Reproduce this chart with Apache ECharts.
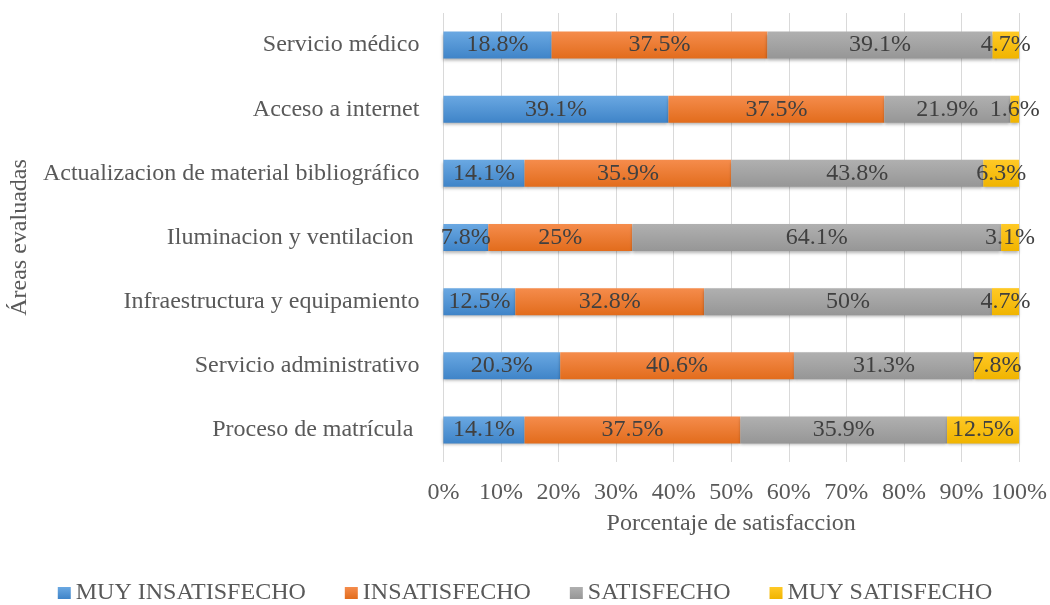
<!DOCTYPE html>
<html>
<head>
<meta charset="utf-8">
<script src="https://cdn.jsdelivr.net/npm/echarts@6/dist/echarts.min.js"></script>
<style>
  html, body { margin: 0; padding: 0; background: #fff; }
  #chart { width: 1050px; height: 605px; }
</style>
</head>
<body>
<div id="chart"></div>
<script>
// categories, bottom to top
const areas = ['Proceso de matrícula ', 'Servicio administrativo', 'Infraestructura y equipamiento',
  'Iluminacion y ventilacion ', 'Actualizacion de material bibliográfico', 'Acceso a internet', 'Servicio médico']
const muyInsatisfecho = [14.1, 20.3, 12.5, 7.8, 14.1, 39.1, 18.8]
const insatisfecho = [37.5, 40.6, 32.8, 25, 35.9, 37.5, 37.5]
const satisfecho = [35.9, 31.3, 50, 64.1, 43.8, 21.9, 39.1]
const muySatisfecho = [12.5, 7.8, 4.7, 3.1, 6.3, 1.6, 4.7]
const seriesNames = ['MUY INSATISFECHO', 'INSATISFECHO', 'SATISFECHO', 'MUY SATISFECHO']

const font = 'Liberation Serif'
const textColor = '#595959'
const fs = 24

function grad (top, bottom) {
  return {
    type: 'linear', x: 0, y: 0, x2: 0, y2: 1,
    colorStops: [{ offset: 0, color: top }, { offset: 1, color: bottom }]
  }
}

const colors = [
  grad('#6aa8e2', '#3f84c8'),
  grad('#f58c4c', '#e26c1c'),
  grad('#b0b0b0', '#969696'),
  grad('#ffc926', '#f0b400')
]

function makeSeries (name, data, i) {
  return {
    name: name,
    type: 'bar',
    stack: 'total',
    barWidth: 27,
    data: data,
    itemStyle: {
      color: colors[i],
      shadowColor: 'rgba(0,0,0,0.3)',
      shadowBlur: 3,
      shadowOffsetY: 2
    },
    label: {
      show: true,
      position: 'inside',
      formatter: '{c}%',
      fontFamily: font,
      fontSize: fs,
      color: '#404040'
    }
  }
}

const chart = echarts.init(document.getElementById('chart'))
chart.setOption({
  animation: false,
  textStyle: { fontFamily: font },
  color: ['#5b9bd5', '#ed7d31', '#a5a5a5', '#ffc000'],
  grid: { left: 442, right: 30, top: 13, bottom: 143 },
  legend: {
    bottom: -5,
    left: 'center',
    icon: 'rect',
    itemWidth: 13,
    itemHeight: 12,
    itemGap: 39,
    textStyle: { fontFamily: font, fontSize: fs, color: textColor },
    data: seriesNames
  },
  xAxis: {
    type: 'value',
    min: 0,
    max: 100,
    interval: 10,
    name: 'Porcentaje de satisfaccion',
    nameLocation: 'middle',
    nameGap: 50,
    nameTextStyle: { fontFamily: font, fontSize: fs, color: textColor },
    axisLabel: { formatter: '{value}%', fontFamily: font, fontSize: fs, color: textColor, margin: 19 },
    axisLine: { show: false },
    axisTick: { show: false },
    splitLine: { lineStyle: { color: '#d9d9d9', width: 1 } }
  },
  yAxis: {
    type: 'category',
    data: areas,
    name: 'Áreas evaluadas',
    nameLocation: 'middle',
    nameGap: 408,
    nameRotate: 90,
    nameTextStyle: { fontFamily: font, fontSize: fs, color: textColor },
    axisLabel: { fontFamily: font, fontSize: fs, color: textColor, margin: 24 },
    axisLine: { show: false },
    axisTick: { show: false }
  },
  series: [
    makeSeries(seriesNames[0], muyInsatisfecho, 0),
    makeSeries(seriesNames[1], insatisfecho, 1),
    makeSeries(seriesNames[2], satisfecho, 2),
    makeSeries(seriesNames[3], muySatisfecho, 3)
  ]
})
</script>
</body>
</html>
